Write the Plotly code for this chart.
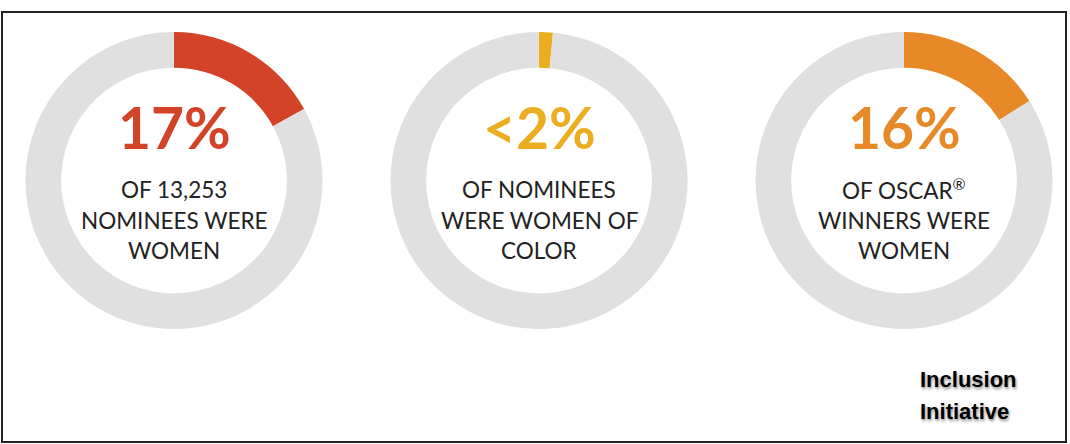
import plotly.graph_objects as go

# ---- data ----
categories = ["Nominees women", "Nominees women of color", "Oscar winners women"]
pct_values = [17, 1.5, 16]
big_labels = ["17%", "<2%", "16%"]
sub_line1 = ["OF 13,253", "OF NOMINEES", "OF OSCAR<sup>®</sup>"]
sub_line2 = ["NOMINEES WERE", "WERE WOMEN OF", "WINNERS WERE"]
sub_line3 = ["WOMEN", "COLOR", "WOMEN"]
source_lines = ["Inclusion", "Initiative"]

# ---- style ----
W, H = 1070, 444
colors = ["#D24328", "#ECAE20", "#E88927"]
ring_gray = "#E0E0E0"
centers_x = [174, 539, 904]
center_y = 180.5
radius = 148.5


def px(x):
    return x / W


def py(y):
    return 1 - y / H


fig = go.Figure()
for i, cat in enumerate(categories):
    cx = centers_x[i]
    fig.add_trace(go.Pie(
        labels=[cat, "Other"],
        values=[pct_values[i], 100 - pct_values[i]],
        hole=0.76,
        sort=False,
        direction="clockwise",
        rotation=0,
        textinfo="none",
        hoverinfo="skip",
        marker=dict(colors=[colors[i], ring_gray], line=dict(width=0)),
        domain=dict(x=[px(cx - radius), px(cx + radius)],
                    y=[py(center_y + radius), py(center_y - radius)]),
        showlegend=False,
    ))

annotations = []
for i in range(len(categories)):
    cx = centers_x[i]
    annotations.append(dict(
        x=px(cx), y=py(127), xref="paper", yref="paper",
        text="<b>%s</b>" % big_labels[i], showarrow=False,
        xanchor="center", yanchor="middle",
        font=dict(family="Lato", size=57, color=colors[i]),
    ))
    for line, yy in zip([sub_line1[i], sub_line2[i], sub_line3[i]], [189, 220, 250.5]):
        annotations.append(dict(
            x=px(cx), y=py(yy), xref="paper", yref="paper",
            text=line, showarrow=False,
            xanchor="center", yanchor="middle",
            font=dict(family="Lato", size=22.5, color="#222222"),
        ))

for line, yy in zip(source_lines, [379, 411]):
    annotations.append(dict(
        x=px(918), y=py(yy), xref="paper", yref="paper",
        text="<b>%s</b>" % line, showarrow=False,
        xanchor="left", yanchor="middle",
        font=dict(family="Liberation Sans", size=22, color="#000000",
                  shadow="1px 2px 3px rgba(0,0,0,0.45)"),
    ))

fig.update_layout(
    width=W, height=H,
    margin=dict(l=0, r=0, t=0, b=0),
    paper_bgcolor="white", plot_bgcolor="white",
    annotations=annotations,
    shapes=[dict(type="rect", xref="paper", yref="paper",
                 x0=px(2), x1=px(1066), y0=py(442), y1=py(12),
                 line=dict(color="#222222", width=2))],
)

fig.write_html("out.html",
               config={"displayModeBar": False},
               post_script="document.body.style.margin='0';document.body.style.overflow='hidden';")
